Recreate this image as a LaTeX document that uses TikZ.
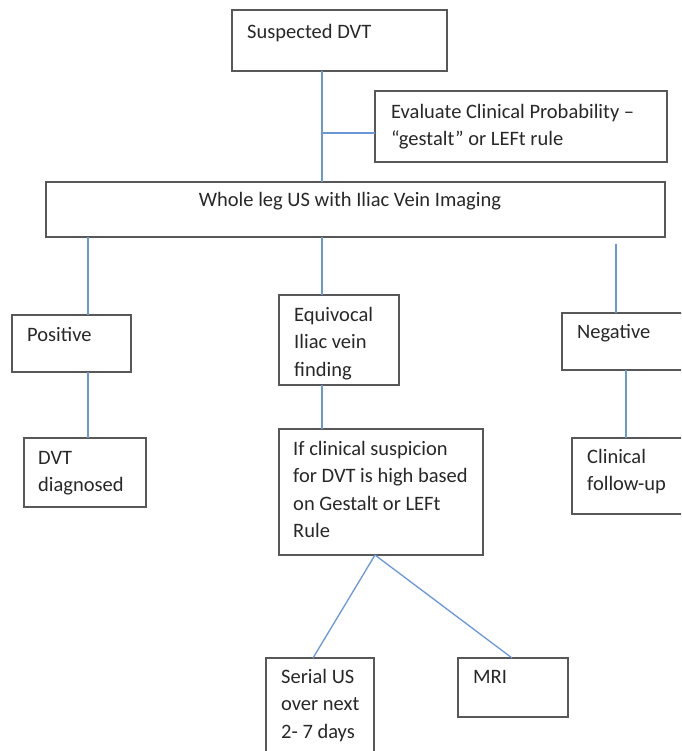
\documentclass[tikz,border=0pt]{standalone}
\usepackage{fontspec}
\setmainfont{Carlito}
\definecolor{connc}{RGB}{106,152,214}
\definecolor{boxc}{RGB}{88,88,88}
\definecolor{txtc}{RGB}{40,40,40}
\tikzset{
  boxnode/.style={draw=boxc, line width=1.3pt, fill=white, inner sep=0pt, outer sep=0pt, anchor=north west},
  txt/.style={anchor=north west, inner sep=0pt, align=left, text=txtc,
    font=\fontsize{20.5}{27.5}\selectfont},
  conn/.style={draw=connc, line width=1.3pt}
}
\newcommand{\fl}{\rule{0pt}{16pt}}
\begin{document}
\begin{tikzpicture}[x=1pt,y=-1pt]
\useasboundingbox (0,0) rectangle (681,751);
\clip (0,0) rectangle (681,751);
\fill[white] (0,0) rectangle (681,751);

% boxes
\node[boxnode, minimum width=215pt, minimum height=61pt] (sus) at (232,10) {};
\node[boxnode, minimum width=292pt, minimum height=71pt] (eval) at (375,91) {};
\node[boxnode, minimum width=619pt, minimum height=55pt] (whole) at (46,182) {};
\node[boxnode, minimum width=119pt, minimum height=57pt] (pos) at (12,315) {};
\node[boxnode, minimum width=120pt, minimum height=90pt] (equ) at (279,295) {};
\node[boxnode, minimum width=130pt, minimum height=57pt] (neg) at (562,313) {};
\node[boxnode, minimum width=122pt, minimum height=69pt] (dvtd) at (24,438) {};
\node[boxnode, minimum width=204pt, minimum height=126pt] (ifc) at (279,429) {};
\node[boxnode, minimum width=125pt, minimum height=76pt] (cfu) at (572,438) {};
\node[boxnode, minimum width=108pt, minimum height=110pt] (ser) at (266,658) {};
\node[boxnode, minimum width=110pt, minimum height=59pt] (mri) at (458,658) {};

% texts
\node[txt] (sus-t) at (247,22) {\fl Suspected DVT};
\node[txt] (eval-t) at (391,102) {\fl Evaluate Clinical Probability –\\“gestalt” or LEFt rule};
\node[txt, anchor=base] (whole-t) at (350,207) {Whole leg US with Iliac Vein Imaging};
\node[txt] (pos-t) at (27,325) {\fl Positive};
\node[txt] (equ-t) at (294,305) {\fl Equivocal\\Iliac vein\\finding};
\node[txt] (neg-t) at (577,322) {\fl Negative};
\node[txt] (dvtd-t) at (38,448) {\fl DVT\\diagnosed};
\node[txt] (ifc-t) at (293,439) {\fl If clinical suspicion\\for DVT is high based\\on Gestalt or LEFt\\Rule};
\node[txt] (cfu-t) at (587,447) {\fl Clinical\\follow-up};
\node[txt] (ser-t) at (281,667) {\fl Serial US\\over next\\2- 7 days};
\node[txt] (mri-t) at (473,667) {\fl MRI};

% connector helper coordinates
\coordinate (cM) at (322,0);
\coordinate (cL) at (88,0);
\coordinate (br) at (322,133);
\coordinate (rtop) at (616,244);
\coordinate (cR2) at (626,0);
\coordinate (apex) at (375,555);
\coordinate (serin) at (313,0);
\coordinate (mriin) at (512,0);

% connectors
\draw[conn] (sus.south -| cM) -- (whole.north -| cM);
\draw[conn] (br) -- (br -| eval.west);
\draw[conn] (whole.south -| cL) -- (pos.north -| cL);
\draw[conn] (pos.south -| cL) -- (dvtd.north -| cL);
\draw[conn] (whole.south -| cM) -- (equ.north -| cM);
\draw[conn] (equ.south -| cM) -- (ifc.north -| cM);
\draw[conn] (rtop) -- (rtop |- neg.north);
\draw[conn] (neg.south -| cR2) -- (cfu.north -| cR2);
\draw[conn] (apex) -- (ser.north -| serin);
\draw[conn] (apex) -- (mri.north -| mriin);
\end{tikzpicture}
\end{document}
